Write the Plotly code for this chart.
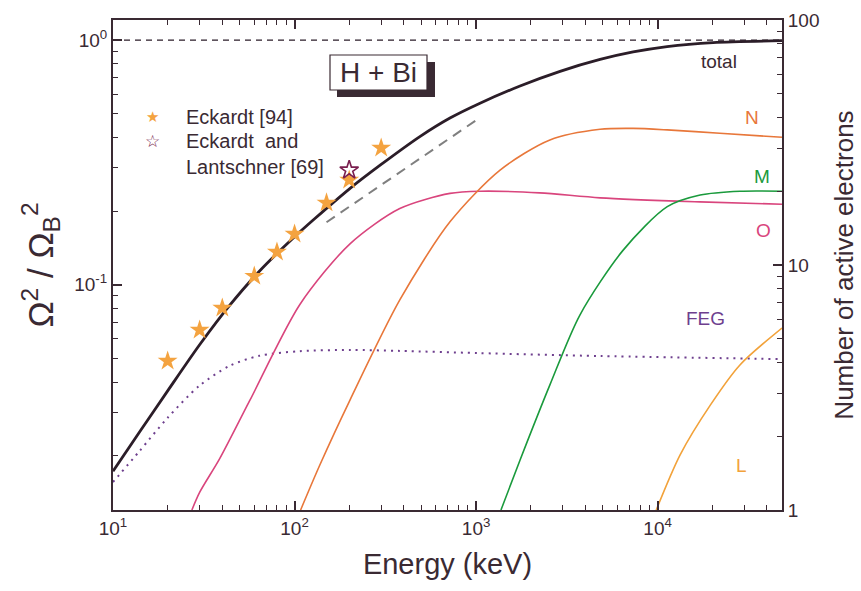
import numpy as np
import plotly.graph_objects as go

# ---------------- data ----------------
E_total = [10, 14, 20, 30, 44, 64, 100, 129, 200, 300, 490, 718, 1051, 1746, 2901, 4819, 7328, 11270, 20200, 48400]
total = [0.01728, 0.025, 0.0368, 0.0568, 0.0825, 0.1135, 0.157, 0.186, 0.246, 0.31, 0.403, 0.48, 0.552, 0.649,
         0.745, 0.833, 0.894, 0.941, 0.977, 0.994]

E_bethe = [150, 1000]
bethe = [0.18, 0.47]

E_ref = [10, 48400]
ref_one = [1.0, 1.0]

E_eck94 = [20, 30, 40, 60, 80, 100, 150, 200, 300]
eck94 = [0.0488, 0.0653, 0.0803, 0.1084, 0.136, 0.161, 0.216, 0.268, 0.362]

E_eck69 = [200]
eck69 = [0.294]

E_feg = [10, 14, 20, 30, 44, 64, 107, 202, 380, 1020, 4820, 48400]
feg = [1.30, 1.74, 2.38, 3.22, 3.88, 4.26, 4.45, 4.50, 4.46, 4.37, 4.25, 4.13]

E_O = [27.2, 30, 38.7, 56.7, 107, 202, 380, 718, 1050, 2240, 4820, 17100, 48400]
O_sh = [1.0, 1.18, 1.62, 2.8, 6.9, 12.2, 17.0, 19.6, 20.0, 19.7, 18.8, 18.1, 17.7]

E_N = [108, 138, 202, 380, 718, 1355, 2550, 4820, 7330, 11300, 22000, 48400]
N_sh = [1.0, 1.53, 2.81, 7.2, 15.0, 24.4, 32.4, 35.8, 36.1, 35.6, 34.5, 33.2]

E_M = [1371, 1747, 2550, 3730, 6460, 11300, 17150, 28500, 48400]
M_sh = [1.0, 1.6, 3.24, 6.25, 11.5, 17.3, 19.3, 20.0, 20.0]

E_L = [9820, 13300, 19500, 28400, 48400]
L_sh = [1.0, 1.68, 2.68, 3.91, 5.53]

x_ticks = [10, 100, 1000, 10000]
x_ticktext = ["10<sup>1</sup>", "10<sup>2</sup>", "10<sup>3</sup>", "10<sup>4</sup>"]
y_ticks = [0.1, 1]
y_ticktext = ["10<sup>-1</sup>", "10<sup>0</sup>"]
y2_ticks = [1, 10, 100]
y2_ticktext = ["1", "10", "100"]

# ---------------- style ----------------
FONT = "Liberation Sans, Arial, Helvetica, sans-serif"
AX = "#3a2a33"
C_TOTAL = "#2b1d28"
C_N = "#e8773a"
C_M = "#1a9a3c"
C_O = "#d9457d"
C_L = "#f2a23a"
C_FEG = "#6e3f8e"
C_STAR = "#f4a340"
C_OSTAR = "#7a1f4f"

W, H = 861, 591
ML, MR, MT, MB = 113, 79, 20, 81
PW, PH = W - ML - MR, H - MT - MB


def pxx(px):
    return (px - ML) / PW


def pxy(py):
    return (H - MB - py) / PH


def minor_vals(decades):
    out = []
    for d in decades:
        out += [k * d for k in range(2, 10)]
    return out


fig = go.Figure()

fig.add_trace(go.Scatter(x=E_ref, y=ref_one, mode="lines",
                         line=dict(color=C_TOTAL, width=1.2, dash="6px,5px"), hoverinfo="skip"))
fig.add_trace(go.Scatter(x=E_bethe, y=bethe, mode="lines",
                         line=dict(color="#7f7f7f", width=2, dash="10px,7px"), hoverinfo="skip"))
fig.add_trace(go.Scatter(x=E_total, y=total, mode="lines", line_shape="spline",
                         line=dict(color=C_TOTAL, width=2.8, smoothing=0.8)))

for ex, vals, col, dash, w in [
    (E_feg, feg, C_FEG, "2px,5px", 2),
    (E_O, O_sh, C_O, "solid", 1.6),
    (E_N, N_sh, C_N, "solid", 1.6),
    (E_M, M_sh, C_M, "solid", 1.6),
    (E_L, L_sh, C_L, "solid", 1.6),
]:
    fig.add_trace(go.Scatter(x=ex, y=vals, yaxis="y2", mode="lines", line_shape="spline",
                             line=dict(color=col, width=w, dash=dash, smoothing=0.8)))

fig.add_trace(go.Scatter(x=E_eck94, y=eck94, mode="markers",
                         marker=dict(symbol="star", size=15, color=C_STAR, line=dict(width=0))))
fig.add_trace(go.Scatter(x=E_eck69, y=eck69, mode="markers",
                         marker=dict(symbol="star-open", size=14, color=C_OSTAR, line=dict(width=1.6, color=C_OSTAR))))

axis_common = dict(showline=True, linecolor=AX, linewidth=2, showgrid=False, zeroline=False,
                   ticks="inside", tickcolor=AX, tickwidth=1.5, ticklen=9,
                   tickfont=dict(family=FONT, size=19, color=AX), automargin=False)

fig.update_layout(
    width=W, height=H,
    margin=dict(l=ML, r=MR, t=MT, b=MB),
    paper_bgcolor="white", plot_bgcolor="white",
    showlegend=False,
    font=dict(family=FONT, color=AX),
    xaxis=dict(type="log", range=[1, 4.685], tickmode="array", tickvals=x_ticks, ticktext=x_ticktext,
               mirror="ticks",
               minor=dict(tickmode="array", tickvals=minor_vals([10, 100, 1000, 10000]), ticks="inside",
                          ticklen=5, tickwidth=1.3, tickcolor=AX),
               title=dict(text="Energy (keV)", font=dict(family=FONT, size=29, color=AX), standoff=16),
               **axis_common),
    yaxis=dict(type="log", range=[-1.921, 0.082], tickmode="array", tickvals=y_ticks, ticktext=y_ticktext,
               minor=dict(tickmode="array", tickvals=minor_vals([0.01, 0.1]), ticks="inside",
                          ticklen=5, tickwidth=1.3, tickcolor=AX),
               title=dict(text="Ω<sup>2</sup> / Ω<sub>B</sub><sup>2</sup>",
                          font=dict(family=FONT, size=35, color=AX), standoff=10),
               **axis_common),
    yaxis2=dict(type="log", range=[0, 2], overlaying="y", side="right", tickmode="array",
                tickvals=y2_ticks, ticktext=y2_ticktext,
                minor=dict(tickmode="array", tickvals=minor_vals([1, 10]), ticks="inside",
                           ticklen=5, tickwidth=1.3, tickcolor=AX),
                title=dict(text="Number of active electrons", font=dict(family=FONT, size=26, color=AX),
                           standoff=16),
                **axis_common),
)

# H + Bi box with shadow
fig.add_shape(type="rect", xref="paper", yref="paper", x0=pxx(337), x1=pxx(435), y0=pxy(97), y1=pxy(62),
              fillcolor="#3a2a33", line=dict(width=0), layer="above")
fig.add_shape(type="rect", xref="paper", yref="paper", x0=pxx(330), x1=pxx(427), y0=pxy(90), y1=pxy(55),
              fillcolor="white", line=dict(width=1.2, color=AX), layer="above")
fig.add_annotation(xref="paper", yref="paper", x=pxx(378.5), y=pxy(72.5), text="H + Bi", showarrow=False,
                   font=dict(family=FONT, size=28, color=AX), xanchor="center", yanchor="middle")

# legend (text)
fig.add_annotation(xref="paper", yref="paper", x=pxx(152), y=pxy(117), text="★", showarrow=False,
                   font=dict(family="DejaVu Sans", size=15, color=C_STAR), xanchor="center", yanchor="middle")
fig.add_annotation(xref="paper", yref="paper", x=pxx(152), y=pxy(141), text="☆", showarrow=False,
                   font=dict(family="DejaVu Sans", size=17, color=C_OSTAR), xanchor="center", yanchor="middle")
fig.add_annotation(xref="paper", yref="paper", x=pxx(184), y=pxy(117), text="Eckardt [94]", showarrow=False,
                   font=dict(family=FONT, size=20, color=AX), xanchor="left", yanchor="middle")
fig.add_annotation(xref="paper", yref="paper", x=pxx(184), y=pxy(154), text="Eckardt  and<br>Lantschner [69]",
                   showarrow=False, align="left",
                   font=dict(family=FONT, size=20, color=AX), xanchor="left", yanchor="middle")

# curve labels
for txt, px, py, col in [("total", 719, 61, AX), ("N", 752, 118, C_N), ("M", 762, 176, C_M),
                         ("O", 763, 230, C_O), ("FEG", 705, 318, C_FEG), ("L", 741, 465, C_L)]:
    fig.add_annotation(xref="paper", yref="paper", x=pxx(px), y=pxy(py), text=txt, showarrow=False,
                       font=dict(family=FONT, size=19, color=col), xanchor="center", yanchor="middle")

fig.write_html("out.html")
